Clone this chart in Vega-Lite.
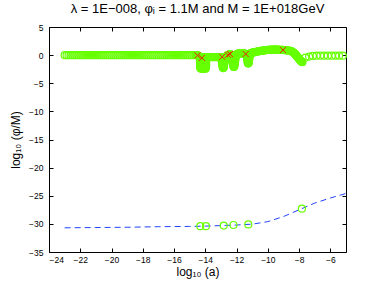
{
  "$schema": "https://vega.github.io/schema/vega-lite/v6.json",
  "autosize": {"type": "none"},
  "padding": {"left": 49, "top": 27, "right": 36, "bottom": 35},
  "width": 297,
  "height": 225,
  "background": "white",
  "title": {"text": "λ = 1E−008, φᵢ = 1.1M and M = 1E+018GeV", "font": "Liberation Sans", "fontSize": 13, "fontWeight": "normal", "color": "#000", "offset": 7, "anchor": "middle"},
  "config": {
    "view": {"stroke": null},
    "axis": {"domainColor": "#000", "tickColor": "#000", "labelFont": "Liberation Sans", "labelFontSize": 8.5, "labelColor": "#000", "titleFont": "Liberation Sans", "titleFontWeight": "normal", "titleFontSize": 12, "titleColor": "#000", "grid": false, "tickSize": -4, "domainWidth": 1, "tickWidth": 1}
  },
  "datasets": {
    "green": [
      {"x":-23,"y":0},{"x":-22.875,"y":0},{"x":-22.75,"y":0},{"x":-22.625,"y":0},{"x":-22.5,"y":0},{"x":-22.375,"y":0},{"x":-22.25,"y":0},{"x":-22.125,"y":0},{"x":-22,"y":0},{"x":-21.875,"y":0},{"x":-21.75,"y":0},{"x":-21.625,"y":0},{"x":-21.5,"y":0},{"x":-21.375,"y":0},{"x":-21.25,"y":0},{"x":-21.125,"y":0},{"x":-21,"y":0},{"x":-20.875,"y":0},{"x":-20.75,"y":0},{"x":-20.625,"y":0},{"x":-20.5,"y":0},{"x":-20.375,"y":0},{"x":-20.25,"y":0},{"x":-20.125,"y":0},{"x":-20,"y":0},{"x":-19.875,"y":0},{"x":-19.75,"y":0},{"x":-19.625,"y":0},{"x":-19.5,"y":0},{"x":-19.375,"y":0},{"x":-19.25,"y":0},{"x":-19.125,"y":0},{"x":-19,"y":0},{"x":-18.875,"y":0},{"x":-18.75,"y":0},{"x":-18.625,"y":0},{"x":-18.5,"y":0},{"x":-18.375,"y":0},{"x":-18.25,"y":0},{"x":-18.125,"y":0},{"x":-18,"y":0},{"x":-17.875,"y":0},{"x":-17.75,"y":0},{"x":-17.625,"y":0},{"x":-17.5,"y":0},{"x":-17.375,"y":0},{"x":-17.25,"y":0},{"x":-17.125,"y":0},{"x":-17,"y":0},{"x":-16.875,"y":0},{"x":-16.75,"y":0},{"x":-16.625,"y":0},{"x":-16.5,"y":0},{"x":-16.375,"y":0},{"x":-16.25,"y":0},{"x":-16.125,"y":0},{"x":-16,"y":0},{"x":-15.875,"y":0},{"x":-15.75,"y":0},{"x":-15.625,"y":0},{"x":-15.5,"y":0},{"x":-15.375,"y":0},{"x":-15.25,"y":0},{"x":-15.125,"y":0},{"x":-15,"y":0},{"x":-14.875,"y":0},{"x":-14.75,"y":0},{"x":-14.625,"y":0},
      {"x":-14.58,"y":0},{"x":-14.53,"y":0},{"x":-14.48,"y":-0.05},{"x":-14.43,"y":-0.15},{"x":-14.38,"y":-0.3},
      {"x":-14.33,"y":-0.5},{"x":-14.33,"y":-0.7},{"x":-14.33,"y":-0.9},{"x":-14.33,"y":-1.1},{"x":-14.33,"y":-1.3},{"x":-14.33,"y":-1.5},{"x":-14.33,"y":-1.7},{"x":-14.33,"y":-1.9},{"x":-14.33,"y":-2.1},{"x":-14.33,"y":-2.3},
      {"x":-14.28,"y":-2.4},{"x":-14.23,"y":-2.4},{"x":-14.18,"y":-2.4},{"x":-14.13,"y":-2.4},{"x":-14.08,"y":-2.4},{"x":-14.03,"y":-2.4},{"x":-13.98,"y":-2.4},
      {"x":-13.95,"y":-2.2},{"x":-13.95,"y":-2.0},{"x":-13.95,"y":-1.8},{"x":-13.95,"y":-1.6},{"x":-13.95,"y":-1.4},{"x":-13.95,"y":-1.2},{"x":-13.95,"y":-1.0},{"x":-13.95,"y":-0.8},{"x":-13.95,"y":-0.6},{"x":-13.95,"y":-0.4},
      {"x":-14.28,"y":-0.35},{"x":-14.2,"y":-0.45},{"x":-14.12,"y":-0.45},{"x":-14.04,"y":-0.4},
      {"x":-13.9,"y":-0.35},{"x":-13.85,"y":-0.35},{"x":-13.8,"y":-0.35},{"x":-13.75,"y":-0.35},{"x":-13.7,"y":-0.35},{"x":-13.65,"y":-0.35},{"x":-13.6,"y":-0.35},{"x":-13.55,"y":-0.35},{"x":-13.5,"y":-0.35},{"x":-13.45,"y":-0.35},{"x":-13.4,"y":-0.35},{"x":-13.35,"y":-0.35},{"x":-13.3,"y":-0.35},{"x":-13.25,"y":-0.35},{"x":-13.2,"y":-0.35},{"x":-13.15,"y":-0.35},{"x":-13.1,"y":-0.35},{"x":-13.05,"y":-0.35},{"x":-13.0,"y":-0.4},
      {"x":-12.97,"y":-0.55},{"x":-12.96,"y":-0.75},{"x":-12.95,"y":-0.95},{"x":-12.94,"y":-1.15},{"x":-12.93,"y":-1.35},{"x":-12.92,"y":-1.55},{"x":-12.91,"y":-1.75},{"x":-12.9,"y":-1.95},{"x":-12.89,"y":-2.15},{"x":-12.87,"y":-2.3},{"x":-12.84,"y":-2.3},
      {"x":-12.82,"y":-2.15},{"x":-12.81,"y":-1.95},{"x":-12.8,"y":-1.75},{"x":-12.79,"y":-1.55},{"x":-12.78,"y":-1.35},{"x":-12.77,"y":-1.15},{"x":-12.76,"y":-0.95},{"x":-12.75,"y":-0.75},{"x":-12.74,"y":-0.55},{"x":-12.72,"y":-0.35},
      {"x":-12.68,"y":-0.25},{"x":-12.63,"y":-0.15},{"x":-12.58,"y":-0.05},{"x":-12.53,"y":0.05},{"x":-12.48,"y":0.12},{"x":-12.43,"y":0.15},{"x":-12.38,"y":0.15},{"x":-12.33,"y":0.05},
      {"x":-12.3,"y":-0.15},{"x":-12.29,"y":-0.35},{"x":-12.28,"y":-0.55},{"x":-12.27,"y":-0.75},{"x":-12.26,"y":-0.95},{"x":-12.25,"y":-1.15},{"x":-12.24,"y":-1.35},{"x":-12.23,"y":-1.55},{"x":-12.22,"y":-1.75},{"x":-12.21,"y":-1.95},{"x":-12.19,"y":-2.1},{"x":-12.16,"y":-2.1},
      {"x":-12.14,"y":-1.95},{"x":-12.13,"y":-1.75},{"x":-12.12,"y":-1.55},{"x":-12.11,"y":-1.35},{"x":-12.1,"y":-1.15},{"x":-12.09,"y":-0.95},{"x":-12.08,"y":-0.75},{"x":-12.07,"y":-0.55},{"x":-12.06,"y":-0.35},{"x":-12.04,"y":-0.1},
      {"x":-12.0,"y":0.15},{"x":-11.95,"y":0.22},{"x":-11.9,"y":0.26},{"x":-11.85,"y":0.3},{"x":-11.8,"y":0.3},{"x":-11.75,"y":0.3},{"x":-11.7,"y":0.3},{"x":-11.65,"y":0.3},{"x":-11.6,"y":0.3},{"x":-11.55,"y":0.3},{"x":-11.5,"y":0.28},{"x":-11.45,"y":0.25},{"x":-11.4,"y":0.15},{"x":-11.36,"y":0},
      {"x":-11.34,"y":-0.2},{"x":-11.33,"y":-0.4},{"x":-11.32,"y":-0.6},{"x":-11.31,"y":-0.8},{"x":-11.3,"y":-1.0},{"x":-11.29,"y":-1.2},{"x":-11.28,"y":-1.4},{"x":-11.26,"y":-1.5},{"x":-11.23,"y":-1.45},{"x":-11.22,"y":-1.25},{"x":-11.21,"y":-1.05},{"x":-11.2,"y":-0.85},{"x":-11.19,"y":-0.65},{"x":-11.18,"y":-0.45},{"x":-11.17,"y":-0.25},{"x":-11.15,"y":-0.05},{"x":-11.12,"y":0.2},
      {"x":-11.08,"y":0.35},{"x":-11.05,"y":0.4},{"x":-11.0,"y":0.43},{"x":-10.95,"y":0.46},{"x":-10.9,"y":0.49},{"x":-10.85,"y":0.52},{"x":-10.8,"y":0.55},{"x":-10.75,"y":0.58},{"x":-10.7,"y":0.61},{"x":-10.65,"y":0.64},{"x":-10.6,"y":0.67},{"x":-10.55,"y":0.7},{"x":-10.5,"y":0.73},{"x":-10.45,"y":0.76},{"x":-10.4,"y":0.78},{"x":-10.35,"y":0.8},{"x":-10.3,"y":0.82},{"x":-10.25,"y":0.84},{"x":-10.2,"y":0.86},{"x":-10.15,"y":0.88},{"x":-10.1,"y":0.9},{"x":-10.05,"y":0.91},{"x":-10.0,"y":0.92},{"x":-9.95,"y":0.93},{"x":-9.9,"y":0.94},{"x":-9.85,"y":0.95},{"x":-9.8,"y":0.96},{"x":-9.75,"y":0.97},{"x":-9.7,"y":0.97},{"x":-9.65,"y":0.98},{"x":-9.6,"y":0.98},{"x":-9.55,"y":0.98},{"x":-9.5,"y":0.98},{"x":-9.45,"y":0.98},{"x":-9.4,"y":0.97},{"x":-9.35,"y":0.97},{"x":-9.3,"y":0.96},{"x":-9.25,"y":0.96},{"x":-9.2,"y":0.95},{"x":-9.15,"y":0.94},{"x":-9.1,"y":0.93},{"x":-9.05,"y":0.92},{"x":-9.0,"y":0.91},{"x":-8.95,"y":0.9},{"x":-8.9,"y":0.89},{"x":-8.85,"y":0.88},{"x":-8.8,"y":0.86},{"x":-8.75,"y":0.84},{"x":-8.7,"y":0.82},{"x":-8.65,"y":0.8},{"x":-8.6,"y":0.77},{"x":-8.55,"y":0.74},{"x":-8.5,"y":0.7},{"x":-8.46,"y":0.64},{"x":-8.42,"y":0.57},{"x":-8.38,"y":0.5},{"x":-8.34,"y":0.41},{"x":-8.3,"y":0.32},{"x":-8.27,"y":0.22},{"x":-8.24,"y":0.12},{"x":-8.21,"y":0.02},{"x":-8.18,"y":-0.08},{"x":-8.15,"y":-0.18},{"x":-8.12,"y":-0.28},{"x":-8.09,"y":-0.38},{"x":-8.06,"y":-0.48},{"x":-8.03,"y":-0.58},{"x":-8.0,"y":-0.68},{"x":-7.97,"y":-0.78},{"x":-7.94,"y":-0.88},{"x":-7.91,"y":-0.97},{"x":-7.88,"y":-1.06},{"x":-7.85,"y":-1.14},{"x":-7.82,"y":-1.2},{"x":-7.79,"y":-1.25},
      {"x":-7.6,"y":-0.45},{"x":-7.36,"y":-0.25},{"x":-7.12,"y":-0.15},{"x":-6.88,"y":-0.1},{"x":-6.64,"y":-0.1},{"x":-6.4,"y":-0.1},{"x":-6.16,"y":-0.1},{"x":-5.92,"y":-0.1},{"x":-5.68,"y":-0.1},{"x":-5.44,"y":-0.1},{"x":-5.2,"y":-0.1},
      {"x":-14.32,"y":-30.4},{"x":-13.96,"y":-30.4},{"x":-12.82,"y":-30.3},{"x":-12.2,"y":-30.2},{"x":-11.25,"y":-30.1},{"x":-7.82,"y":-27.3}
    ],
    "blue": [
      {"x":-23,"y":-30.7},{"x":-21,"y":-30.65},{"x":-19,"y":-30.6},{"x":-17,"y":-30.5},{"x":-15,"y":-30.45},{"x":-14,"y":-30.4},{"x":-13,"y":-30.3},{"x":-12,"y":-30.2},{"x":-11,"y":-30.05},{"x":-10,"y":-29.6},{"x":-9,"y":-28.7},{"x":-8,"y":-27.5},{"x":-7,"y":-26.3},{"x":-6,"y":-25.4},{"x":-5,"y":-24.6}
    ],
    "red": [
      {"x":-14.5,"y":-0.05},{"x":-14.22,"y":-0.5},{"x":-12.92,"y":-0.3},{"x":-12.55,"y":0.05},{"x":-12.42,"y":0.2},{"x":-11.42,"y":0.2},{"x":-9.03,"y":0.9}
    ]
  },
  "layer": [
    {
      "data": {"name": "blue"},
      "mark": {"type": "line", "color": "#2244ff", "strokeWidth": 1, "strokeDash": [6, 4]},
      "encoding": {
        "x": {"field": "x", "type": "quantitative", "scale": {"domain": [-24, -5], "nice": false, "zero": false},
              "axis": {"orient": "top", "labels": false, "title": null, "values": [-24,-22,-20,-18,-16,-14,-12,-10,-8,-6]}},
        "y": {"field": "y", "type": "quantitative", "scale": {"domain": [-35, 5], "nice": false, "zero": false},
              "axis": {"orient": "right", "labels": false, "title": null, "values": [-35,-30,-25,-20,-15,-10,-5,0,5]}}
      }
    },
    {
      "data": {"name": "green"},
      "mark": {"type": "point", "shape": "circle", "filled": false, "color": "#66ff00", "size": 49, "strokeWidth": 1.2, "opacity": 1},
      "encoding": {
        "x": {"field": "x", "type": "quantitative",
              "axis": {"orient": "bottom", "title": "log₁₀ (a)", "values": [-24,-22,-20,-18,-16,-14,-12,-10,-8,-6], "labelPadding": 7, "titlePadding": 3}},
        "y": {"field": "y", "type": "quantitative",
              "axis": {"orient": "left", "title": "log₁₀ (φ/M)", "values": [-35,-30,-25,-20,-15,-10,-5,0,5], "labelPadding": 10, "titlePadding": 6}}
      }
    },
    {
      "data": {"name": "red"},
      "mark": {"type": "point", "shape": "M-1,-1L1,1M-1,1L1,-1", "filled": false, "color": "#ee2200", "size": 36, "strokeWidth": 1, "opacity": 1},
      "encoding": {
        "x": {"field": "x", "type": "quantitative", "axis": null},
        "y": {"field": "y", "type": "quantitative", "axis": null}
      }
    }
  ],
  "resolve": {"axis": {"x": "independent", "y": "independent"}}
}
